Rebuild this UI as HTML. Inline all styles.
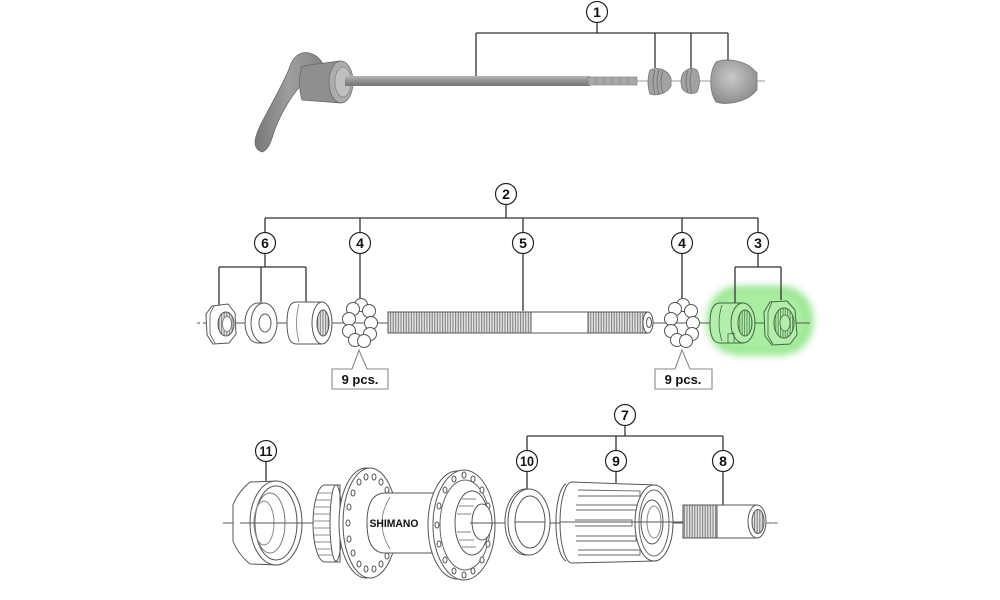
<!DOCTYPE html>
<html><head><meta charset="utf-8">
<style>
html,body{margin:0;padding:0;background:#fff;}
svg{display:block;}
.ld{stroke:#333;stroke-width:1.3;fill:none;}
.cl circle{fill:#fff;stroke:#222;stroke-width:1.2;}
.cl text{font-family:"Liberation Sans",sans-serif;font-weight:bold;font-size:14px;fill:#111;text-anchor:middle;}
.p{stroke:#555;stroke-width:1;fill:#fff;}
.g{stroke:#3d6b3d;stroke-width:1;fill:#b4eeac;}
</style></head>
<body>
<svg width="1000" height="600" viewBox="0 0 1000 600" xmlns="http://www.w3.org/2000/svg">
<defs>
 <pattern id="thr" width="2.6" height="20" patternUnits="userSpaceOnUse">
  <rect width="2.6" height="20" fill="#e4e4e4"/>
  <line x1="0.6" y1="0" x2="0.6" y2="20" stroke="#7a7a7a" stroke-width="1"/>
 </pattern>
 <pattern id="thrg" width="2.4" height="20" patternUnits="userSpaceOnUse">
  <rect width="2.4" height="20" fill="#b4eeac"/>
  <line x1="0.6" y1="0" x2="0.6" y2="20" stroke="#4f8a4f" stroke-width="0.9"/>
 </pattern>
 <linearGradient id="rod" x1="0" y1="0" x2="0" y2="1">
  <stop offset="0" stop-color="#b8b8b8"/><stop offset="0.45" stop-color="#939393"/><stop offset="1" stop-color="#747474"/>
 </linearGradient>
 <linearGradient id="lev" x1="0" y1="0" x2="1" y2="0">
  <stop offset="0" stop-color="#777"/><stop offset="0.5" stop-color="#9e9e9e"/><stop offset="1" stop-color="#858585"/>
 </linearGradient>
 <radialGradient id="knob" cx="0.45" cy="0.4" r="0.7">
  <stop offset="0" stop-color="#c8c8c8"/><stop offset="1" stop-color="#858585"/>
 </radialGradient>
 <filter id="bl" x="-30%" y="-30%" width="160%" height="160%"><feGaussianBlur stdDeviation="4"/></filter>
</defs>

<!-- ================= TOP: quick release ================= -->
<g class="ld">
 <line x1="476" y1="33" x2="728" y2="33"/>
 <line x1="597" y1="22" x2="597" y2="33"/>
 <line x1="476" y1="33" x2="476" y2="77"/>
 <line x1="655" y1="33" x2="655" y2="68"/>
 <line x1="691" y1="33" x2="691" y2="69"/>
 <line x1="728" y1="33" x2="728" y2="62"/>
</g>
<line x1="630" y1="81" x2="765" y2="81" stroke="#999" stroke-width="1"/>
<!-- lever -->
<path d="M323,64 C318,55 309,51 302,53 C295,55 291,62 289,69 C282,86 270,106 260,126 C254,139 252,148 262,152 C268,150 271,142 274,132 C281,112 293,93 305,81 C311,76 318,74 322,73 Z" fill="url(#lev)" stroke="#6a6a6a" stroke-width="0.8"/>
<!-- cam housing -->
<path d="M302,66 L340,61 L340,103 L302,100 Q297,83 302,66 Z" fill="#8f8f8f" stroke="#6a6a6a" stroke-width="0.8"/>
<ellipse cx="341" cy="82" rx="12" ry="21" fill="#acacac" stroke="#6a6a6a" stroke-width="0.8"/>
<ellipse cx="343" cy="82" rx="8" ry="15" fill="#bfbfbf" stroke="#888" stroke-width="0.8"/>
<!-- rod -->
<rect x="345" y="76" width="245" height="10" fill="url(#rod)"/>
<rect x="588" y="77" width="49" height="8" fill="#a8a8a8" stroke="#7a7a7a" stroke-width="0.6"/>
<g stroke="#888" stroke-width="0.6">
 <line x1="596" y1="77" x2="596" y2="85"/><line x1="604" y1="77" x2="604" y2="85"/><line x1="612" y1="77" x2="612" y2="85"/><line x1="620" y1="77" x2="620" y2="85"/><line x1="628" y1="77" x2="628" y2="85"/>
</g>
<!-- spring 1 -->
<path d="M650,70 Q660,66 668,73 L671,78 L671,86 L668,90 Q660,97 650,94 Q646,82 650,70 Z" fill="#a2a2a2" stroke="#777" stroke-width="0.8"/>
<g fill="none" stroke="#6e6e6e" stroke-width="0.8">
 <path d="M655,70 Q651,82 655,94"/><path d="M659,70 Q655,82 659,94"/><path d="M663,71 Q659,82 663,93"/>
</g>
<!-- spring 2 -->
<path d="M683,73 Q690,66 697,70 Q702,81 697,92 Q690,96 683,90 Q679,82 683,73 Z" fill="#a2a2a2" stroke="#777" stroke-width="0.8"/>
<g fill="none" stroke="#6e6e6e" stroke-width="0.8">
 <path d="M688,71 Q684,81 688,92"/><path d="M692,70 Q688,81 692,93"/>
</g>
<!-- knob -->
<path d="M716,62 C728,57 745,62 752,68 L757,73 L757,90 L752,95 C745,101 728,106 716,102 C709,92 709,72 716,62 Z" fill="url(#knob)" stroke="#777" stroke-width="0.8"/>

<!-- ================= MIDDLE: axle ================= -->
<g class="ld">
 <line x1="265" y1="218" x2="758" y2="218"/>
 <line x1="506" y1="204" x2="506" y2="218"/>
 <line x1="265" y1="218" x2="265" y2="233"/>
 <line x1="360" y1="218" x2="360" y2="233"/>
 <line x1="523" y1="218" x2="523" y2="233"/>
 <line x1="682" y1="218" x2="682" y2="233"/>
 <line x1="758" y1="218" x2="758" y2="233"/>
 <line x1="265" y1="253" x2="265" y2="267"/>
 <line x1="219" y1="267" x2="306" y2="267"/>
 <line x1="219" y1="267" x2="219" y2="307"/>
 <line x1="261" y1="267" x2="261" y2="302"/>
 <line x1="306" y1="267" x2="306" y2="302"/>
 <line x1="360" y1="253" x2="360" y2="298"/>
 <line x1="523" y1="253" x2="523" y2="311"/>
 <line x1="682" y1="253" x2="682" y2="298"/>
 <line x1="758" y1="253" x2="758" y2="267"/>
 <line x1="735" y1="267" x2="781" y2="267"/>
</g>
<!-- green highlight -->
<rect x="707" y="286" width="106" height="69" rx="32" fill="#96e690" filter="url(#bl)"/>
<rect x="715" y="292" width="90" height="57" rx="26" fill="#aaeda2" filter="url(#bl)"/>
<g class="ld">
 <line x1="735" y1="267" x2="735" y2="304"/>
 <line x1="781" y1="267" x2="781" y2="300"/>
</g>
<!-- axis -->
<line x1="195" y1="323" x2="810" y2="323" stroke="#555" stroke-width="1" />
<line x1="188" y1="323" x2="205" y2="323" stroke="#fff" stroke-width="2" stroke-dasharray="3,3"/>
<!-- hex nut left -->
<path d="M212,306 L228,304 L235,313 L236,334 L229,343 L213,344 L207,335 L206,314 Z" class="p"/>
<path d="M214,306 L210,314 L210,334 L215,343" fill="none" stroke="#555" stroke-width="0.8"/>
<ellipse cx="226" cy="324" rx="8" ry="12" fill="url(#thr)" stroke="#555"/>
<ellipse cx="227" cy="324" rx="4.5" ry="7.5" fill="#fff" stroke="#777" stroke-width="0.8"/>
<!-- washer -->
<path d="M258,303 L264,303 L264,343 L258,343 A13,20 0 0 1 258,303 Z" class="p"/>
<ellipse cx="264" cy="323" rx="13" ry="20" class="p"/>
<ellipse cx="265" cy="323" rx="6" ry="9" class="p"/>
<!-- cone left -->
<path d="M296,302 L322,302 L322,344 L296,344 Q287,344 287,323 Q287,302 296,302 Z" class="p"/>
<ellipse cx="322" cy="323" rx="10" ry="21" class="p"/>
<ellipse cx="323" cy="323" rx="6" ry="13" fill="url(#thr)" stroke="#555"/>
<path d="M299,304 Q294,323 299,342" fill="none" stroke="#777" stroke-width="0.8"/>
<!-- balls left -->
<g class="p">
 <circle cx="361" cy="305" r="6.5"/><circle cx="369" cy="311" r="6.5"/><circle cx="353" cy="309" r="6.5"/>
 <circle cx="349" cy="319" r="6.5"/><circle cx="371" cy="323" r="6.5"/><circle cx="349" cy="331" r="6.5"/>
 <circle cx="370" cy="334" r="6.5"/><circle cx="355" cy="340" r="6.5"/><circle cx="364" cy="341" r="6.5"/>
</g>
<!-- axle -->
<rect x="388" y="312" width="143" height="21" fill="url(#thr)" stroke="#555"/>
<rect x="531" y="312" width="57" height="21" class="p"/>
<rect x="588" y="312" width="60" height="21" fill="url(#thr)" stroke="#555"/>
<ellipse cx="648" cy="322.5" rx="5" ry="10.5" class="p"/>
<ellipse cx="649" cy="322.5" rx="2.5" ry="5" class="p"/>
<line x1="653" y1="323" x2="675" y2="323" stroke="#555"/>
<!-- balls right -->
<g class="p">
 <circle cx="683" cy="305" r="6.5"/><circle cx="691" cy="311" r="6.5"/><circle cx="675" cy="309" r="6.5"/>
 <circle cx="671" cy="319" r="6.5"/><circle cx="693" cy="323" r="6.5"/><circle cx="671" cy="331" r="6.5"/>
 <circle cx="692" cy="334" r="6.5"/><circle cx="677" cy="340" r="6.5"/><circle cx="686" cy="341" r="6.5"/>
</g>
<!-- cone 3 (green) -->
<path d="M720,303 L743,303 L743,343 L720,343 Q710,343 710,323 Q710,303 720,303 Z" class="g"/>
<ellipse cx="743" cy="323" rx="12" ry="20" class="g"/>
<ellipse cx="745" cy="323" rx="7" ry="13" fill="url(#thrg)" stroke="#3d6b3d"/>
<path d="M722,305 Q716,323 722,341" fill="none" stroke="#3d6b3d" stroke-width="0.8"/>
<path d="M728,334 L734,333 L734,343 L728,343 Z" fill="none" stroke="#3d6b3d" stroke-width="0.8"/>
<line x1="755" y1="323" x2="764" y2="323" stroke="#3d6b3d"/>
<!-- nut 3 (green) -->
<path d="M770,302 L787,301 L795,310 L797,335 L790,344 L772,345 L765,336 L764,312 Z" class="g"/>
<path d="M772,302 L768,312 L768,336 L773,344" fill="none" stroke="#3d6b3d" stroke-width="0.8"/>
<ellipse cx="784" cy="323" rx="10" ry="15" fill="url(#thrg)" stroke="#3d6b3d"/>
<ellipse cx="785" cy="323" rx="5" ry="8" fill="#b4eeac" stroke="#3d6b3d" stroke-width="0.8"/>
<line x1="797" y1="323" x2="808" y2="323" stroke="#555" stroke-dasharray="3,2"/>
<!-- 9 pcs boxes -->
<g fill="none" stroke="#888" stroke-width="1.1">
 <path d="M352,369 L332,369 L332,389 L388,389 L388,369 L367,369 L359,350 L352,369"/>
 <path d="M675,369 L655,369 L655,389 L712,389 L712,369 L690,369 L682,350 L675,369"/>
</g>
<g font-family="Liberation Sans, sans-serif" font-weight="bold" font-size="13" fill="#111" text-anchor="middle">
 <text x="360" y="384">9 pcs.</text>
 <text x="683" y="384">9 pcs.</text>
</g>

<!-- ================= BOTTOM: hub ================= -->
<g class="ld">
 <line x1="266" y1="461" x2="266" y2="481"/>
 <line x1="527" y1="436" x2="723" y2="436"/>
 <line x1="625" y1="425" x2="625" y2="436"/>
 <line x1="527" y1="436" x2="527" y2="451"/>
 <line x1="616" y1="436" x2="616" y2="451"/>
 <line x1="723" y1="436" x2="723" y2="451"/>
 <line x1="527" y1="471" x2="527" y2="489"/>
 <line x1="616" y1="471" x2="616" y2="483"/>
 <line x1="723" y1="471" x2="723" y2="505"/>
</g>
<line x1="223" y1="523" x2="778" y2="523" stroke="#555" stroke-width="1"/>
<!-- cup 11 -->
<path d="M233,505 Q238,492 250,482 L278,481 L278,565 L250,564 Q238,554 233,541 Z" class="p"/>
<ellipse cx="276" cy="523" rx="26" ry="42" class="p"/>
<ellipse cx="276" cy="523" rx="21" ry="37" class="p"/>
<ellipse cx="270" cy="523" rx="15" ry="30" fill="none" stroke="#777"/>
<ellipse cx="264" cy="523" rx="10" ry="22" fill="none" stroke="#888"/>
<line x1="240" y1="523" x2="302" y2="523" stroke="#555"/>
<!-- disc spline -->
<path d="M325,485 L340,485 L340,562 L325,562 A12,38.5 0 0 1 325,485 Z" class="p"/>
<ellipse cx="336" cy="523" rx="6" ry="38" fill="none" stroke="#555"/>
<g stroke="#777" stroke-width="0.8">
 <line x1="316" y1="500" x2="332" y2="500"/><line x1="315" y1="507" x2="331" y2="507"/><line x1="314" y1="514" x2="330" y2="514"/>
 <line x1="314" y1="521" x2="330" y2="521"/><line x1="314" y1="528" x2="330" y2="528"/><line x1="314" y1="535" x2="330" y2="535"/>
 <line x1="315" y1="542" x2="331" y2="542"/><line x1="316" y1="549" x2="332" y2="549"/><line x1="318" y1="493" x2="333" y2="493"/><line x1="318" y1="555" x2="333" y2="555"/>
</g>
<!-- left flange -->
<ellipse cx="366" cy="523" rx="27" ry="55" class="p"/>
<ellipse cx="370" cy="523" rx="27" ry="55" class="p"/>
<g class="p" stroke-width="0.9">
 <ellipse cx="381" cy="564" rx="2" ry="3"/><ellipse cx="374" cy="569" rx="2" ry="3"/><ellipse cx="366" cy="569" rx="2" ry="3"/>
 <ellipse cx="359" cy="564" rx="2" ry="3"/><ellipse cx="353" cy="553" rx="2" ry="3"/><ellipse cx="349" cy="539" rx="2" ry="3"/>
 <ellipse cx="348" cy="523" rx="2" ry="3"/><ellipse cx="349" cy="507" rx="2" ry="3"/><ellipse cx="353" cy="493" rx="2" ry="3"/>
 <ellipse cx="359" cy="482" rx="2" ry="3"/><ellipse cx="366" cy="477" rx="2" ry="3"/><ellipse cx="374" cy="477" rx="2" ry="3"/>
 <ellipse cx="381" cy="482" rx="2" ry="3"/><ellipse cx="387" cy="490" rx="2" ry="3"/><ellipse cx="387" cy="556" rx="2" ry="3"/>
</g>
<!-- body -->
<path d="M385,493 L440,493 L440,553 L385,553 Q367,553 367,523 Q367,493 385,493 Z" class="p"/>
<path d="M390,497 Q374,523 390,549" fill="none" stroke="#777" stroke-width="0.8"/>
<text x="394" y="527" font-family="Liberation Sans, sans-serif" font-weight="bold" font-size="11" fill="#111" text-anchor="middle" textLength="49" lengthAdjust="spacingAndGlyphs">SHIMANO</text>
<!-- right flange -->
<ellipse cx="457" cy="525" rx="29" ry="54" class="p"/>
<ellipse cx="464" cy="525" rx="31" ry="55" class="p"/>
<ellipse cx="465" cy="525" rx="25" ry="45" fill="none" stroke="#666"/>
<g class="p" stroke-width="0.9">
 <ellipse cx="490" cy="525" rx="2" ry="3"/><ellipse cx="488" cy="544" rx="2" ry="3"/><ellipse cx="482" cy="560" rx="2" ry="3"/>
 <ellipse cx="473" cy="571" rx="2" ry="3"/><ellipse cx="464" cy="575" rx="2" ry="3"/><ellipse cx="454" cy="571" rx="2" ry="3"/>
 <ellipse cx="445" cy="560" rx="2" ry="3"/><ellipse cx="439" cy="544" rx="2" ry="3"/><ellipse cx="437" cy="525" rx="2" ry="3"/>
 <ellipse cx="439" cy="506" rx="2" ry="3"/><ellipse cx="445" cy="490" rx="2" ry="3"/><ellipse cx="454" cy="479" rx="2" ry="3"/>
 <ellipse cx="464" cy="475" rx="2" ry="3"/><ellipse cx="473" cy="479" rx="2" ry="3"/><ellipse cx="482" cy="490" rx="2" ry="3"/>
 <ellipse cx="488" cy="506" rx="2" ry="3"/>
</g>
<ellipse cx="472" cy="523" rx="17" ry="32" class="p"/>
<g stroke="#666" stroke-width="0.8">
 <line x1="462" y1="499" x2="476" y2="499"/><line x1="459" y1="506" x2="474" y2="506"/><line x1="457" y1="514" x2="471" y2="514"/>
 <line x1="457" y1="532" x2="471" y2="532"/><line x1="459" y1="540" x2="474" y2="540"/><line x1="462" y1="547" x2="476" y2="547"/>
</g>
<ellipse cx="482" cy="522" rx="10" ry="18" class="p"/>
<line x1="470" y1="523" x2="500" y2="523" stroke="#555"/>
<!-- washer 10 -->
<ellipse cx="526" cy="522" rx="21" ry="33" class="p"/>
<ellipse cx="529" cy="522" rx="21" ry="33" class="p"/>
<ellipse cx="530" cy="522" rx="15" ry="26" class="p"/>
<line x1="515" y1="522" x2="545" y2="522" stroke="#555"/>
<!-- freehub 9 -->
<path d="M572,482 L655,485 L655,561 L572,563 A12,40.5 0 0 1 572,482 Z" class="p"/>
<path d="M566,484 A12,39 0 0 0 566,561" fill="none" stroke="#555"/>
<g stroke="#666" stroke-width="0.9" fill="none">
 <path d="M578,490 L640,491 L640,496 L578,496"/>
 <path d="M576,505 L638,505 L638,510 L576,510"/>
 <path d="M575,520 L632,520 L632,526 L575,526"/>
 <path d="M576,536 L636,536 L636,541 L576,541"/>
 <path d="M578,550 L640,550 L640,555 L578,555"/>
</g>
<ellipse cx="654" cy="523" rx="19" ry="38" class="p"/>
<ellipse cx="654" cy="523" rx="15" ry="33" fill="none" stroke="#666"/>
<ellipse cx="652" cy="522" rx="11" ry="22" class="p"/>
<ellipse cx="654" cy="522" rx="7" ry="16" fill="none" stroke="#888"/>
<line x1="560" y1="522" x2="683" y2="522" stroke="#555"/>
<!-- axle 8 -->
<rect x="683" y="505" width="34" height="33" fill="url(#thr)" stroke="#555"/>
<rect x="717" y="505" width="40" height="33" class="p"/>
<ellipse cx="757" cy="521.5" rx="9" ry="16.5" class="p"/>
<ellipse cx="758" cy="521.5" rx="6" ry="12" fill="url(#thr)" stroke="#555"/>
<line x1="766" y1="523" x2="778" y2="523" stroke="#777" stroke-dasharray="3,2"/>

<!-- ================= callout circles ================= -->
<g class="cl">
 <circle cx="597" cy="12" r="10.5"/><text x="597" y="17">1</text>
 <circle cx="506" cy="194" r="10.5"/><text x="506" y="199">2</text>
 <circle cx="265" cy="243" r="10.5"/><text x="265" y="248">6</text>
 <circle cx="360" cy="243" r="10.5"/><text x="360" y="248">4</text>
 <circle cx="523" cy="243" r="10.5"/><text x="523" y="248">5</text>
 <circle cx="682" cy="243" r="10.5"/><text x="682" y="248">4</text>
 <circle cx="758" cy="243" r="10.5"/><text x="758" y="248">3</text>
 <circle cx="266" cy="451" r="10.5"/><text x="266" y="456" textLength="13" lengthAdjust="spacingAndGlyphs">11</text>
 <circle cx="625" cy="415" r="10.5"/><text x="625" y="420">7</text>
 <circle cx="527" cy="461" r="10.5"/><text x="527" y="466" textLength="14" lengthAdjust="spacingAndGlyphs">10</text>
 <circle cx="616" cy="461" r="10.5"/><text x="616" y="466">9</text>
 <circle cx="723" cy="461" r="10.5"/><text x="723" y="466">8</text>
</g>
</svg>
</body></html>
